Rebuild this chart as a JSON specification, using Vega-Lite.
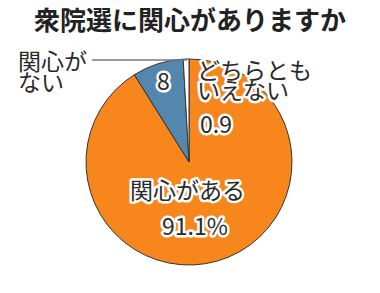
{
  "$schema": "https://vega.github.io/schema/vega-lite/v6.json",
  "width": 380,
  "height": 257,
  "autosize": {"type": "none"},
  "padding": {"top": 36, "left": 0, "right": 0, "bottom": 0},
  "background": "white",
  "title": {"text": "衆院選に関心がありますか", "fontSize": 26, "font": "Noto Sans CJK JP", "fontWeight": "bold", "color": "#222222", "anchor": "middle", "offset": 1},
  "config": {"view": {"stroke": null}},
  "datasets": {
    "pie": [
      {"answer": "関心がある", "pct": 91.1, "order": 1},
      {"answer": "関心がない", "pct": 8, "order": 2},
      {"answer": "どちらともいえない", "pct": 0.9, "order": 3}
    ],
    "labels": [
      {"text": "関心が", "x": -171, "y": 99},
      {"text": "ない", "x": -171, "y": 78},
      {"text": "8", "x": -32, "y": 79},
      {"text": "どちらとも", "x": 8, "y": 90},
      {"text": "いえない", "x": 8, "y": 70},
      {"text": "0.9", "x": 11, "y": 36},
      {"text": "関心がある", "x": -59, "y": -30},
      {"text": "91.1%", "x": -27, "y": -66}
    ],
    "leader": [{"x": -97, "x2": -2, "y": 102}]
  },
  "layer": [
    {
      "data": {"name": "pie"},
      "mark": {"type": "arc", "outerRadius": 103, "stroke": "#333333", "strokeWidth": 1},
      "encoding": {
        "theta": {"field": "pct", "type": "quantitative", "stack": true},
        "order": {"field": "order", "type": "quantitative"},
        "color": {"field": "answer", "type": "nominal", "scale": {"domain": ["関心がある", "関心がない", "どちらともいえない"], "range": ["#F7861C", "#5487AD", "#FFFFFF"]}, "legend": null},
        "x": {"datum": 0, "type": "quantitative", "scale": {"domain": [-189, 191], "nice": false, "zero": false}, "axis": null},
        "y": {"datum": 0, "type": "quantitative", "scale": {"domain": [-131, 126], "nice": false, "zero": false}, "axis": null}
      }
    },
    {
      "data": {"name": "leader"},
      "mark": {"type": "rule", "color": "#777777", "strokeWidth": 1.5},
      "encoding": {
        "x": {"field": "x", "type": "quantitative", "scale": {"domain": [-189, 191], "nice": false, "zero": false}, "axis": null},
        "x2": {"field": "x2"},
        "y": {"field": "y", "type": "quantitative", "scale": {"domain": [-131, 126], "nice": false, "zero": false}, "axis": null}
      }
    },
    {
      "data": {"name": "labels"},
      "mark": {"type": "text", "align": "left", "baseline": "middle", "font": "Noto Sans CJK JP", "fontSize": 23, "stroke": "white", "strokeWidth": 5, "strokeJoin": "round", "fill": "white"},
      "encoding": {
        "x": {"field": "x", "type": "quantitative", "scale": {"domain": [-189, 191], "nice": false, "zero": false}, "axis": null},
        "y": {"field": "y", "type": "quantitative", "scale": {"domain": [-131, 126], "nice": false, "zero": false}, "axis": null},
        "text": {"field": "text", "type": "nominal"}
      }
    },
    {
      "data": {"name": "labels"},
      "mark": {"type": "text", "align": "left", "baseline": "middle", "font": "Noto Sans CJK JP", "fontSize": 23, "fill": "#2a2a2a"},
      "encoding": {
        "x": {"field": "x", "type": "quantitative", "scale": {"domain": [-189, 191], "nice": false, "zero": false}, "axis": null},
        "y": {"field": "y", "type": "quantitative", "scale": {"domain": [-131, 126], "nice": false, "zero": false}, "axis": null},
        "text": {"field": "text", "type": "nominal"}
      }
    }
  ]
}
